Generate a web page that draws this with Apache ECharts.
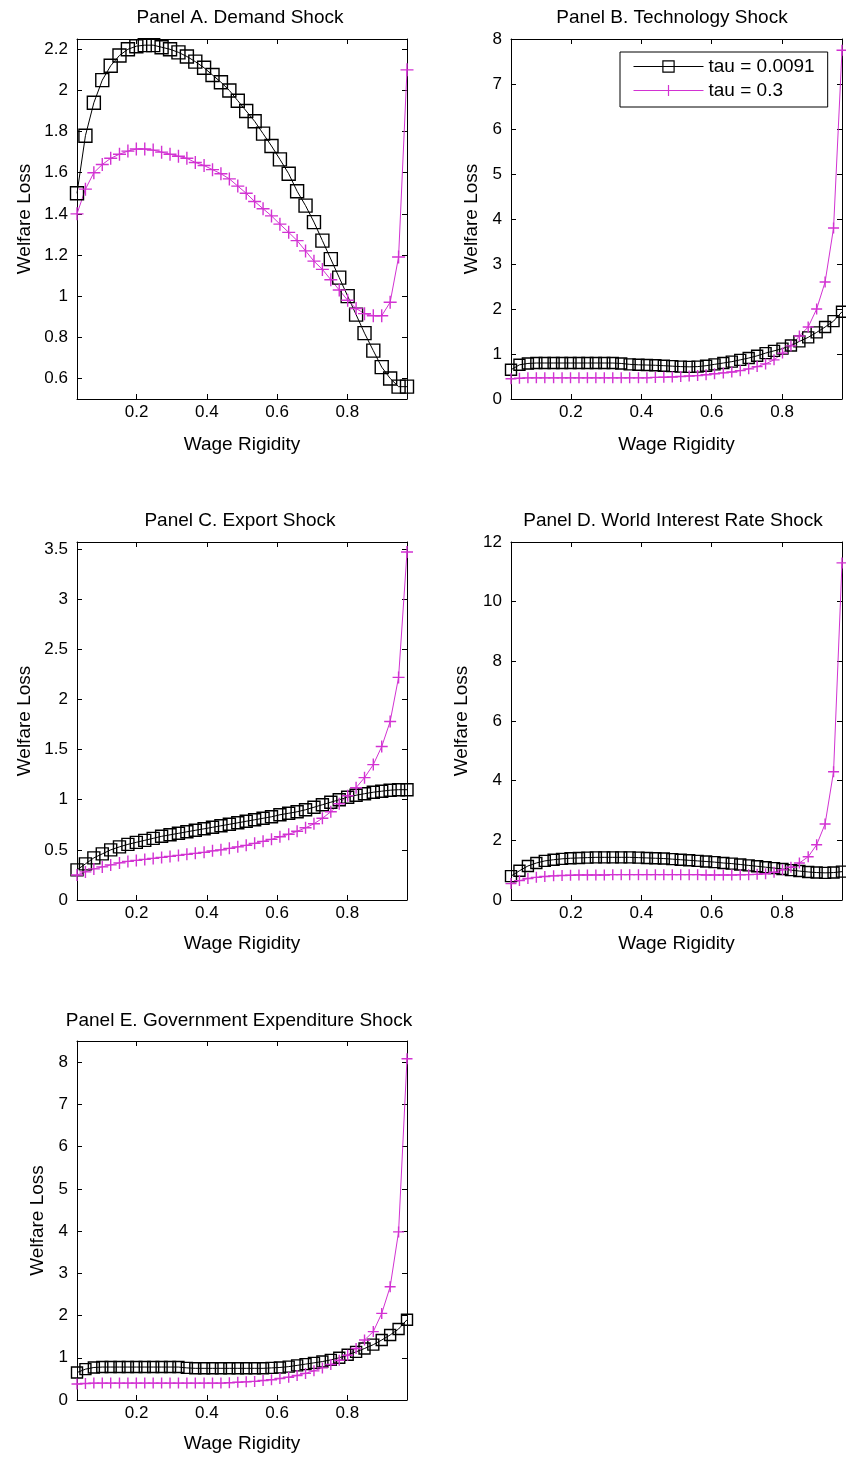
<!DOCTYPE html>
<html><head><meta charset="utf-8">
<script src="https://cdn.jsdelivr.net/npm/echarts@6/dist/echarts.min.js"></script>
<style>html,body{margin:0;padding:0;background:#fff}#c{width:846px;height:1459px}</style>
</head><body><div id="c"></div>
<script>
// ---------- DATA ----------
const wageRigidity = [0.030,0.054,0.078,0.102,0.126,0.151,0.175,0.199,0.223,0.247,
  0.271,0.295,0.319,0.343,0.367,0.392,0.416,0.440,0.464,0.488,
  0.512,0.536,0.560,0.584,0.608,0.633,0.657,0.681,0.705,0.729,
  0.753,0.777,0.801,0.825,0.849,0.874,0.898,0.922,0.946,0.970];

const seriesNames = ['tau = 0.0091', 'tau = 0.3'];

const demandLow  = [1.50,1.78,1.94,2.05,2.12,2.17,2.20,2.215,2.22,2.22,2.21,2.20,2.185,2.165,2.14,2.11,2.075,2.04,2.00,1.95,1.90,1.85,1.79,1.73,1.665,1.595,1.51,1.44,1.36,1.27,1.18,1.09,1.00,0.91,0.82,0.735,0.655,0.60,0.56,0.56];
const demandHigh = [1.40,1.52,1.60,1.64,1.67,1.69,1.705,1.715,1.715,1.71,1.70,1.69,1.68,1.67,1.65,1.635,1.615,1.595,1.57,1.535,1.50,1.46,1.425,1.39,1.35,1.31,1.27,1.22,1.17,1.13,1.08,1.03,0.98,0.94,0.915,0.905,0.905,0.97,1.19,2.10];

const techLow  = [0.65,0.76,0.79,0.80,0.80,0.80,0.80,0.80,0.80,0.80,0.80,0.80,0.80,0.79,0.77,0.76,0.755,0.75,0.74,0.73,0.72,0.715,0.72,0.74,0.77,0.80,0.83,0.87,0.91,0.96,1.02,1.07,1.12,1.19,1.28,1.37,1.48,1.60,1.73,1.94];
const techHigh = [0.45,0.46,0.47,0.47,0.47,0.47,0.47,0.47,0.47,0.47,0.47,0.47,0.47,0.47,0.47,0.47,0.47,0.48,0.485,0.49,0.50,0.51,0.52,0.54,0.56,0.58,0.60,0.63,0.67,0.72,0.78,0.87,1.02,1.18,1.40,1.60,2.00,2.60,3.80,7.75];

const exportLow  = [0.30,0.36,0.42,0.46,0.50,0.53,0.555,0.575,0.595,0.615,0.635,0.65,0.665,0.68,0.695,0.71,0.725,0.74,0.755,0.77,0.785,0.80,0.815,0.83,0.85,0.865,0.88,0.90,0.925,0.95,0.975,1.00,1.025,1.045,1.06,1.075,1.085,1.095,1.10,1.10];
const exportHigh = [0.25,0.28,0.31,0.33,0.35,0.37,0.385,0.395,0.405,0.415,0.425,0.435,0.445,0.455,0.465,0.475,0.49,0.50,0.515,0.53,0.545,0.565,0.585,0.605,0.63,0.655,0.685,0.72,0.76,0.815,0.88,0.96,1.04,1.12,1.22,1.35,1.53,1.78,2.22,3.47];

const rateLow  = [0.80,0.98,1.14,1.24,1.31,1.35,1.38,1.40,1.41,1.42,1.43,1.43,1.43,1.43,1.43,1.42,1.41,1.40,1.39,1.37,1.35,1.33,1.31,1.29,1.27,1.24,1.22,1.19,1.16,1.13,1.10,1.07,1.04,1.00,0.97,0.94,0.92,0.91,0.92,0.95];
const rateHigh = [0.55,0.65,0.72,0.76,0.79,0.81,0.82,0.83,0.84,0.84,0.84,0.84,0.85,0.85,0.85,0.85,0.85,0.85,0.85,0.85,0.85,0.85,0.85,0.84,0.84,0.84,0.84,0.845,0.85,0.86,0.88,0.93,1.01,1.10,1.24,1.45,1.85,2.55,4.30,11.3];

const govLow  = [0.65,0.73,0.77,0.78,0.78,0.78,0.78,0.78,0.78,0.78,0.78,0.78,0.78,0.76,0.75,0.75,0.75,0.75,0.75,0.75,0.75,0.75,0.75,0.76,0.77,0.79,0.82,0.85,0.88,0.91,0.95,1.00,1.07,1.14,1.22,1.31,1.42,1.54,1.68,1.90];
const govHigh = [0.38,0.39,0.40,0.40,0.40,0.40,0.40,0.40,0.40,0.40,0.40,0.40,0.40,0.40,0.40,0.40,0.40,0.40,0.41,0.42,0.43,0.44,0.46,0.48,0.51,0.54,0.58,0.63,0.69,0.76,0.84,0.94,1.06,1.22,1.42,1.62,2.05,2.68,3.98,8.08];

const panelTitles = ['Panel A. Demand Shock','Panel B. Technology Shock','Panel C. Export Shock','Panel D. World Interest Rate Shock','Panel E. Government Expenditure Shock'];
const lowSeries  = [demandLow, techLow, exportLow, rateLow, govLow];
const highSeries = [demandHigh, techHigh, exportHigh, rateHigh, govHigh];

const xTickLabels = [0.2, 0.4, 0.6, 0.8];
const xRange = [0.03, 0.97];
const yTicksA = [0.6,0.8,1,1.2,1.4,1.6,1.8,2,2.2];
const yTicksB = [0,1,2,3,4,5,6,7,8];
const yTicksC = [0,0.5,1,1.5,2,2.5,3,3.5];
const yTicksD = [0,2,4,6,8,10,12];
const yTicksE = [0,1,2,3,4,5,6,7,8];
const yTicks = [yTicksA, yTicksB, yTicksC, yTicksD, yTicksE];
const yRanges = [[0.5,2.25],[0,8],[0,3.57],[0,12],[0,8.5]];

// ---------- LAYOUT / STYLE ----------
const layout = [
  {grid:{left:77,top:39,width:330,height:360}, tx:240, ty:8, yGap:43, xGap:36, sym:13},
  {grid:{left:511,top:39,width:331,height:360}, tx:672, ty:8, yGap:30, xGap:36, sym:11},
  {grid:{left:77,top:542,width:330,height:358}, tx:240, ty:511, yGap:43, xGap:34, sym:12},
  {grid:{left:511,top:542,width:331,height:358}, tx:673, ty:511, yGap:40, xGap:34, sym:11},
  {grid:{left:77,top:1041,width:330,height:359}, tx:239, ty:1011, yGap:30, xGap:34, sym:11}
];
const FONT = '"Liberation Sans", Arial, sans-serif';
const MAG = '#D232D2';
const PLUS = 'path://M1,0L1,2M0,1L2,1';

const grids = [], xAxes = [], yAxes = [], series = [], titles = [];
layout.forEach((L, i) => {
  grids.push(Object.assign({outerBoundsMode:'none', containLabel:false}, L.grid));
  titles.push({text: panelTitles[i], left: L.tx, top: L.ty, textAlign:'center', padding:0,
    textStyle:{fontFamily:FONT, fontSize:19, fontWeight:'normal', color:'#000'}});
  const axLine = {show:true, onZero:false, lineStyle:{color:'#000', width:1}};
  const base = {type:'value', gridIndex:i, splitLine:{show:false}, axisLine:axLine};
  xAxes.push(Object.assign({}, base, {position:'bottom', min:xRange[0], max:xRange[1],
    name:'Wage Rigidity', nameLocation:'middle', nameGap:L.xGap,
    nameTextStyle:{fontFamily:FONT, fontSize:19, color:'#000'},
    axisTick:{show:true, inside:true, length:5, customValues:xTickLabels, lineStyle:{color:'#000'}},
    axisLabel:{show:true, customValues:xTickLabels, margin:5, fontFamily:FONT, fontSize:17, color:'#000'}}));
  xAxes.push(Object.assign({}, base, {position:'top', min:xRange[0], max:xRange[1],
    axisTick:{show:true, inside:true, length:5, customValues:xTickLabels, lineStyle:{color:'#000'}},
    axisLabel:{show:false}}));
  yAxes.push(Object.assign({}, base, {position:'left', min:yRanges[i][0], max:yRanges[i][1],
    name:'Welfare Loss', nameLocation:'middle', nameGap:L.yGap, nameRotate:90,
    nameTextStyle:{fontFamily:FONT, fontSize:19, color:'#000'},
    axisTick:{show:true, inside:true, length:5, customValues:yTicks[i], lineStyle:{color:'#000'}},
    axisLabel:{show:true, customValues:yTicks[i], margin:9, fontFamily:FONT, fontSize:17, color:'#000'}}));
  yAxes.push(Object.assign({}, base, {position:'right', min:yRanges[i][0], max:yRanges[i][1],
    axisTick:{show:true, inside:true, length:5, customValues:yTicks[i], lineStyle:{color:'#000'}},
    axisLabel:{show:false}}));
  series.push({type:'line', name:seriesNames[0], xAxisIndex:2*i, yAxisIndex:2*i,
    data: wageRigidity.map((x, j) => [x, lowSeries[i][j]]),
    symbol:'rect', symbolSize:L.sym, showAllSymbol:true, clip:false,
    lineStyle:{color:'#000', width:1},
    itemStyle:{color:'rgba(255,255,255,0)', borderColor:'#000', borderWidth:1.4},
    emphasis:{disabled:true}});
  series.push({type:'line', name:seriesNames[1], xAxisIndex:2*i, yAxisIndex:2*i,
    data: wageRigidity.map((x, j) => [x, highSeries[i][j]]),
    symbol:PLUS, symbolSize:L.sym, showAllSymbol:true, clip:false,
    lineStyle:{color:MAG, width:1},
    itemStyle:{color:MAG, borderColor:MAG, borderWidth:1.4},
    emphasis:{disabled:true}});
});

const chart = echarts.init(document.getElementById('c'), null, {renderer:'canvas'});
chart.setOption({
  backgroundColor:'#fff',
  animation:false,
  title: titles,
  legend:{data:seriesNames, orient:'vertical', left:620, top:52, padding:[5,13,7,13],
    itemWidth:70, itemHeight:14, itemGap:5, borderColor:'#000', borderWidth:1,
    backgroundColor:'#fff', selectedMode:false,
    lineStyle:{width:1}, itemStyle:{borderWidth:1.2},
    textStyle:{fontFamily:FONT, fontSize:19, color:'#000'}},
  grid: grids, xAxis: xAxes, yAxis: yAxes, series: series
});
</script></body></html>
